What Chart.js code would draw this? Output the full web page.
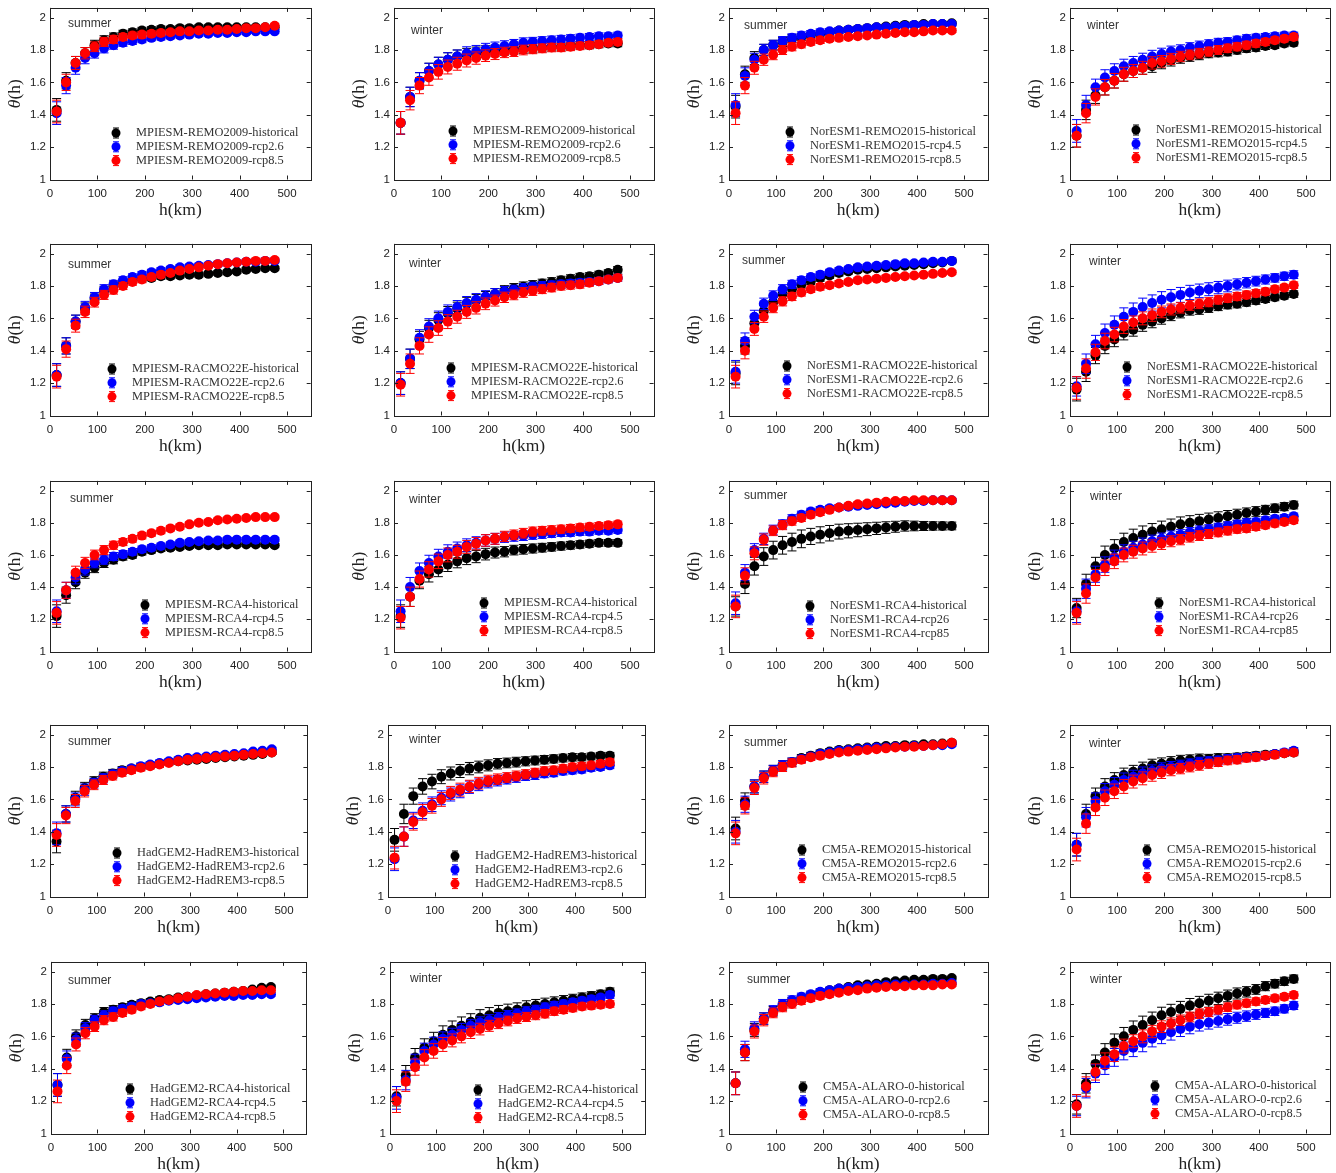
<!DOCTYPE html>
<html>
<head>
<meta charset="utf-8">
<script src="https://cdn.jsdelivr.net/npm/chart.js@4.4.0/dist/chart.umd.min.js"></script>
<style>
  body { margin: 0; background: #fff; width: 1336px; height: 1173px; position: relative; overflow: hidden; }
  canvas { position: absolute; }
</style>
</head>
<body>
<script>
// distance classes h (km)
const h = [14,34,54,74,94,114,134,154,174,194,214,234,254,274,294,314,334,354,374,394,414,434,454,474];
const xTicks = [0,100,200,300,400,500];
const yTicks = [1,1.2,1.4,1.6,1.8,2];
const yTickLabels = ['1','1.2','1.4','1.6','1.8','2'];

// typical half widths of the error bars
const errSummer = [0.07,0.05,0.04,0.035,0.03,0.028,0.025,0.022,0.02,0.02,0.018,0.018,0.016,0.016,0.015,0.015,0.014,0.014,0.014,0.013,0.013,0.013,0.012,0.012];
const errWinter = [0.07,0.06,0.05,0.048,0.045,0.043,0.04,0.04,0.038,0.036,0.034,0.032,0.03,0.03,0.028,0.027,0.026,0.025,0.024,0.023,0.022,0.021,0.02,0.02];
const errWide = [0.06,0.06,0.055,0.055,0.055,0.055,0.055,0.055,0.05,0.05,0.048,0.046,0.044,0.042,0.04,0.038,0.036,0.034,0.032,0.03,0.028,0.026,0.025,0.024];

// MPIESM-REMO2009
const p1_hist = [1.43,1.61,1.72,1.78,1.83,1.86,1.88,1.90,1.91,1.92,1.925,1.93,1.93,1.935,1.935,1.94,1.94,1.94,1.94,1.94,1.94,1.94,1.94,1.94];
const p1_low  = [1.41,1.58,1.69,1.75,1.78,1.81,1.83,1.845,1.855,1.865,1.875,1.88,1.885,1.89,1.895,1.90,1.90,1.905,1.905,1.91,1.91,1.915,1.915,1.915];
const p1_high = [1.42,1.60,1.72,1.78,1.82,1.85,1.865,1.88,1.89,1.895,1.90,1.905,1.91,1.915,1.915,1.92,1.92,1.925,1.925,1.93,1.935,1.935,1.94,1.95];
const p2_hist = [1.35,1.51,1.61,1.67,1.71,1.74,1.76,1.77,1.78,1.79,1.795,1.80,1.805,1.81,1.81,1.815,1.82,1.82,1.825,1.83,1.83,1.835,1.84,1.84];
const p2_low  = [1.35,1.51,1.61,1.67,1.71,1.74,1.76,1.78,1.79,1.805,1.815,1.825,1.835,1.845,1.85,1.855,1.86,1.865,1.87,1.875,1.88,1.885,1.885,1.89];
const p2_high = [1.35,1.49,1.58,1.63,1.665,1.695,1.715,1.735,1.75,1.765,1.775,1.785,1.79,1.80,1.805,1.81,1.815,1.815,1.82,1.825,1.83,1.835,1.845,1.85];
// NorESM1-REMO2015
const p3_hist = [1.45,1.65,1.75,1.80,1.83,1.85,1.87,1.88,1.89,1.90,1.91,1.92,1.925,1.93,1.935,1.94,1.945,1.95,1.955,1.955,1.96,1.96,1.96,1.965];
const p3_low  = [1.46,1.64,1.74,1.80,1.83,1.855,1.875,1.89,1.90,1.91,1.915,1.92,1.925,1.93,1.935,1.94,1.94,1.945,1.95,1.955,1.955,1.96,1.96,1.96];
const p3_high = [1.41,1.58,1.69,1.74,1.77,1.80,1.82,1.835,1.85,1.86,1.87,1.875,1.88,1.885,1.89,1.895,1.90,1.905,1.91,1.91,1.915,1.92,1.92,1.92];
const p4_hist = [1.27,1.43,1.52,1.57,1.61,1.65,1.67,1.69,1.70,1.72,1.735,1.75,1.76,1.77,1.78,1.785,1.79,1.80,1.81,1.815,1.825,1.83,1.84,1.845];
const p4_low  = [1.30,1.46,1.57,1.63,1.67,1.70,1.72,1.74,1.76,1.775,1.79,1.80,1.815,1.825,1.835,1.845,1.85,1.86,1.87,1.875,1.88,1.885,1.89,1.89];
const p4_high = [1.27,1.41,1.51,1.57,1.61,1.65,1.67,1.69,1.72,1.73,1.745,1.76,1.77,1.78,1.79,1.80,1.81,1.82,1.83,1.84,1.85,1.86,1.87,1.88];
// MPIESM-RACMO22E
const p5_hist = [1.25,1.43,1.58,1.66,1.72,1.77,1.80,1.82,1.84,1.845,1.85,1.86,1.86,1.865,1.87,1.87,1.875,1.88,1.885,1.89,1.90,1.905,1.91,1.91];
const p5_low  = [1.25,1.43,1.58,1.67,1.73,1.78,1.81,1.835,1.855,1.87,1.885,1.895,1.905,1.915,1.92,1.925,1.93,1.935,1.94,1.945,1.95,1.95,1.955,1.955];
const p5_high = [1.24,1.41,1.555,1.64,1.70,1.745,1.775,1.80,1.825,1.84,1.855,1.87,1.88,1.895,1.905,1.915,1.925,1.935,1.94,1.945,1.95,1.955,1.955,1.96];
const p6_hist = [1.20,1.35,1.47,1.54,1.59,1.63,1.66,1.69,1.71,1.73,1.75,1.77,1.785,1.795,1.805,1.815,1.825,1.835,1.845,1.855,1.86,1.87,1.88,1.90];
const p6_low  = [1.20,1.35,1.48,1.55,1.60,1.64,1.67,1.695,1.715,1.735,1.75,1.765,1.775,1.785,1.795,1.80,1.805,1.81,1.815,1.82,1.825,1.83,1.84,1.85];
const p6_high = [1.19,1.32,1.43,1.50,1.54,1.58,1.61,1.64,1.665,1.69,1.71,1.73,1.745,1.76,1.77,1.78,1.79,1.80,1.805,1.81,1.82,1.83,1.84,1.85];
// NorESM1-RACMO22E
const p7_hist = [1.26,1.43,1.57,1.645,1.70,1.75,1.78,1.81,1.83,1.85,1.865,1.88,1.89,1.90,1.905,1.91,1.915,1.92,1.925,1.93,1.935,1.94,1.945,1.955];
const p7_low  = [1.27,1.46,1.61,1.69,1.74,1.78,1.81,1.835,1.855,1.87,1.885,1.895,1.905,1.915,1.92,1.925,1.93,1.935,1.94,1.94,1.945,1.95,1.95,1.955];
const p7_high = [1.24,1.40,1.535,1.61,1.665,1.705,1.735,1.76,1.78,1.795,1.805,1.815,1.825,1.835,1.84,1.845,1.85,1.855,1.86,1.865,1.87,1.875,1.88,1.885];
const p8_hist = [1.16,1.27,1.37,1.43,1.47,1.51,1.53,1.56,1.58,1.60,1.62,1.635,1.65,1.655,1.665,1.675,1.685,1.69,1.70,1.71,1.72,1.73,1.74,1.75];
const p8_low  = [1.18,1.32,1.44,1.51,1.56,1.61,1.64,1.67,1.695,1.715,1.73,1.745,1.76,1.77,1.78,1.79,1.80,1.81,1.82,1.83,1.84,1.85,1.86,1.87];
const p8_high = [1.17,1.29,1.39,1.46,1.50,1.55,1.575,1.60,1.62,1.64,1.655,1.665,1.68,1.69,1.70,1.715,1.725,1.735,1.745,1.755,1.765,1.78,1.79,1.805];
// MPIESM-RCA4
const p9_hist = [1.22,1.35,1.43,1.49,1.52,1.55,1.57,1.59,1.60,1.62,1.63,1.64,1.645,1.65,1.655,1.66,1.66,1.66,1.665,1.665,1.665,1.665,1.665,1.66];
const p9_low  = [1.25,1.38,1.46,1.51,1.55,1.57,1.59,1.605,1.62,1.635,1.645,1.655,1.665,1.675,1.68,1.685,1.69,1.69,1.695,1.695,1.695,1.695,1.695,1.695];
const p9_high = [1.24,1.38,1.49,1.55,1.60,1.63,1.66,1.68,1.70,1.72,1.735,1.75,1.765,1.775,1.79,1.80,1.805,1.815,1.82,1.825,1.83,1.835,1.835,1.835];
const p10_hist = [1.22,1.34,1.44,1.48,1.51,1.54,1.56,1.58,1.59,1.605,1.615,1.62,1.63,1.635,1.64,1.645,1.65,1.655,1.66,1.665,1.67,1.675,1.675,1.675];
const p10_low  = [1.25,1.40,1.50,1.55,1.59,1.62,1.64,1.66,1.675,1.69,1.70,1.71,1.715,1.72,1.725,1.73,1.735,1.74,1.74,1.745,1.745,1.75,1.75,1.755];
const p10_high = [1.21,1.34,1.45,1.51,1.56,1.60,1.62,1.65,1.67,1.69,1.70,1.715,1.725,1.735,1.745,1.75,1.755,1.76,1.765,1.77,1.775,1.78,1.785,1.79];
// NorESM1-RCA4
const p11_hist = [1.28,1.42,1.53,1.59,1.63,1.66,1.68,1.70,1.715,1.725,1.735,1.745,1.75,1.755,1.76,1.765,1.77,1.775,1.78,1.78,1.78,1.78,1.78,1.78];
const p11_low  = [1.30,1.49,1.63,1.70,1.755,1.79,1.825,1.85,1.87,1.88,1.89,1.895,1.90,1.905,1.91,1.915,1.92,1.925,1.93,1.935,1.935,1.94,1.94,1.94];
const p11_high = [1.28,1.47,1.61,1.695,1.75,1.785,1.81,1.83,1.85,1.865,1.88,1.895,1.905,1.915,1.92,1.925,1.93,1.935,1.935,1.94,1.94,1.94,1.94,1.94];
const p12_hist = [1.27,1.42,1.53,1.60,1.64,1.68,1.705,1.725,1.745,1.76,1.775,1.79,1.80,1.81,1.82,1.83,1.84,1.85,1.86,1.87,1.88,1.89,1.90,1.91];
const p12_low  = [1.25,1.39,1.48,1.54,1.585,1.62,1.645,1.665,1.685,1.70,1.715,1.725,1.74,1.75,1.76,1.77,1.78,1.79,1.80,1.805,1.815,1.825,1.83,1.84];
const p12_high = [1.24,1.36,1.46,1.52,1.56,1.60,1.62,1.64,1.655,1.67,1.685,1.695,1.71,1.72,1.73,1.74,1.75,1.76,1.765,1.775,1.785,1.795,1.805,1.815];
// HadGEM2-HadREM3
const p13_hist = [1.34,1.51,1.61,1.67,1.71,1.74,1.76,1.78,1.79,1.80,1.81,1.82,1.83,1.835,1.84,1.845,1.85,1.855,1.86,1.865,1.87,1.875,1.88,1.89];
const p13_low  = [1.39,1.51,1.60,1.66,1.70,1.73,1.755,1.775,1.79,1.805,1.815,1.825,1.835,1.845,1.855,1.86,1.865,1.87,1.875,1.88,1.885,1.895,1.90,1.91];
const p13_high = [1.38,1.50,1.59,1.65,1.69,1.72,1.745,1.765,1.78,1.795,1.805,1.815,1.825,1.835,1.845,1.85,1.855,1.86,1.865,1.87,1.875,1.88,1.885,1.89];
const p14_hist = [1.35,1.51,1.62,1.68,1.71,1.74,1.76,1.775,1.79,1.80,1.81,1.82,1.825,1.83,1.835,1.84,1.845,1.85,1.855,1.86,1.86,1.865,1.87,1.87];
const p14_low  = [1.23,1.37,1.47,1.53,1.57,1.61,1.63,1.65,1.675,1.69,1.705,1.715,1.725,1.735,1.745,1.75,1.76,1.765,1.775,1.78,1.785,1.795,1.80,1.81];
const p14_high = [1.24,1.37,1.46,1.52,1.56,1.60,1.64,1.66,1.68,1.70,1.715,1.725,1.735,1.745,1.755,1.765,1.775,1.78,1.79,1.80,1.805,1.81,1.82,1.83];
// CM5A-REMO2015
const p15_hist = [1.42,1.59,1.68,1.74,1.78,1.81,1.83,1.855,1.87,1.885,1.895,1.905,1.91,1.915,1.92,1.925,1.93,1.93,1.935,1.935,1.94,1.94,1.945,1.95];
const p15_low  = [1.40,1.57,1.68,1.74,1.78,1.81,1.83,1.85,1.865,1.88,1.89,1.90,1.905,1.91,1.915,1.92,1.92,1.925,1.925,1.93,1.93,1.935,1.935,1.94];
const p15_high = [1.39,1.56,1.67,1.73,1.77,1.80,1.825,1.845,1.86,1.87,1.88,1.89,1.895,1.90,1.905,1.91,1.915,1.92,1.925,1.925,1.93,1.935,1.94,1.95];
const p16_hist = [1.32,1.51,1.62,1.68,1.72,1.75,1.77,1.79,1.81,1.82,1.83,1.84,1.845,1.85,1.85,1.855,1.855,1.86,1.865,1.87,1.875,1.88,1.885,1.89];
const p16_low  = [1.32,1.49,1.59,1.65,1.69,1.72,1.74,1.76,1.775,1.79,1.80,1.81,1.82,1.83,1.835,1.84,1.85,1.855,1.86,1.865,1.87,1.88,1.89,1.90];
const p16_high = [1.29,1.45,1.55,1.61,1.65,1.68,1.71,1.73,1.75,1.765,1.78,1.79,1.80,1.81,1.82,1.83,1.84,1.845,1.855,1.86,1.87,1.875,1.885,1.89];
// HadGEM2-RCA4
const p17_hist = [1.30,1.47,1.60,1.67,1.71,1.75,1.765,1.78,1.795,1.805,1.815,1.825,1.83,1.84,1.845,1.85,1.86,1.865,1.87,1.875,1.88,1.89,1.90,1.905];
const p17_low  = [1.30,1.46,1.58,1.65,1.70,1.73,1.755,1.77,1.785,1.80,1.805,1.81,1.82,1.825,1.83,1.835,1.84,1.845,1.85,1.85,1.855,1.855,1.86,1.86];
const p17_high = [1.26,1.42,1.55,1.62,1.66,1.70,1.72,1.745,1.765,1.785,1.80,1.815,1.825,1.835,1.845,1.855,1.86,1.865,1.87,1.875,1.88,1.88,1.885,1.885];
const p18_hist = [1.23,1.36,1.47,1.53,1.57,1.61,1.64,1.665,1.69,1.715,1.73,1.745,1.755,1.765,1.78,1.79,1.80,1.81,1.82,1.83,1.84,1.85,1.86,1.875];
const p18_low  = [1.22,1.33,1.44,1.51,1.55,1.585,1.61,1.64,1.665,1.685,1.70,1.715,1.73,1.74,1.755,1.765,1.78,1.79,1.80,1.81,1.82,1.83,1.84,1.855];
const p18_high = [1.20,1.32,1.41,1.47,1.51,1.55,1.575,1.60,1.625,1.645,1.665,1.68,1.695,1.71,1.72,1.73,1.74,1.755,1.765,1.775,1.785,1.79,1.795,1.80];
// CM5A-ALARO-0
const p19_hist = [1.31,1.50,1.64,1.71,1.755,1.79,1.815,1.835,1.855,1.87,1.885,1.895,1.905,1.915,1.92,1.925,1.935,1.94,1.945,1.95,1.95,1.955,1.955,1.96];
const p19_low  = [1.31,1.52,1.65,1.71,1.76,1.80,1.825,1.845,1.86,1.875,1.885,1.895,1.90,1.905,1.91,1.915,1.915,1.92,1.92,1.92,1.92,1.925,1.925,1.93];
const p19_high = [1.31,1.50,1.63,1.70,1.745,1.78,1.80,1.82,1.835,1.85,1.86,1.87,1.88,1.885,1.895,1.90,1.905,1.91,1.91,1.915,1.915,1.915,1.92,1.92];
const p20_hist = [1.18,1.31,1.43,1.50,1.56,1.60,1.64,1.67,1.70,1.73,1.75,1.77,1.79,1.805,1.82,1.835,1.85,1.865,1.875,1.89,1.91,1.925,1.94,1.955];
const p20_low  = [1.17,1.28,1.37,1.42,1.47,1.51,1.53,1.56,1.585,1.605,1.625,1.645,1.66,1.675,1.685,1.695,1.705,1.715,1.725,1.735,1.745,1.755,1.77,1.79];
const p20_high = [1.17,1.29,1.38,1.45,1.49,1.54,1.57,1.60,1.63,1.66,1.68,1.70,1.72,1.74,1.75,1.765,1.78,1.795,1.805,1.815,1.825,1.835,1.845,1.855];

const yMax = 2.06;
const colors = ['#000000', '#0000ff', '#ff0000'];

const panels = [
  { model: 'MPIESM-REMO2009',  season: 'summer', scen: ['historical','rcp2.6','rcp8.5'], vals: [p1_hist,p1_low,p1_high],   err: [errSummer,errSummer,errSummer] },
  { model: 'MPIESM-REMO2009',  season: 'winter', scen: ['historical','rcp2.6','rcp8.5'], vals: [p2_hist,p2_low,p2_high],   err: [errWinter,errWinter,errWinter] },
  { model: 'NorESM1-REMO2015', season: 'summer', scen: ['historical','rcp4.5','rcp8.5'], vals: [p3_hist,p3_low,p3_high],   err: [errSummer,errSummer,errSummer] },
  { model: 'NorESM1-REMO2015', season: 'winter', scen: ['historical','rcp4.5','rcp8.5'], vals: [p4_hist,p4_low,p4_high],   err: [errWinter,errWinter,errWinter] },
  { model: 'MPIESM-RACMO22E',  season: 'summer', scen: ['historical','rcp2.6','rcp8.5'], vals: [p5_hist,p5_low,p5_high],   err: [errSummer,errSummer,errSummer] },
  { model: 'MPIESM-RACMO22E',  season: 'winter', scen: ['historical','rcp2.6','rcp8.5'], vals: [p6_hist,p6_low,p6_high],   err: [errWinter,errWinter,errWinter] },
  { model: 'NorESM1-RACMO22E', season: 'summer', scen: ['historical','rcp2.6','rcp8.5'], vals: [p7_hist,p7_low,p7_high],   err: [errSummer,errSummer,errSummer] },
  { model: 'NorESM1-RACMO22E', season: 'winter', scen: ['historical','rcp2.6','rcp8.5'], vals: [p8_hist,p8_low,p8_high],   err: [errWinter,errWide,errWinter] },
  { model: 'MPIESM-RCA4',      season: 'summer', scen: ['historical','rcp4.5','rcp8.5'], vals: [p9_hist,p9_low,p9_high],   err: [errSummer,errSummer,errSummer] },
  { model: 'MPIESM-RCA4',      season: 'winter', scen: ['historical','rcp4.5','rcp8.5'], vals: [p10_hist,p10_low,p10_high], err: [errWinter,errWinter,errWinter] },
  { model: 'NorESM1-RCA4',     season: 'summer', scen: ['historical','rcp26','rcp85'],   vals: [p11_hist,p11_low,p11_high], err: [errWide,errSummer,errSummer] },
  { model: 'NorESM1-RCA4',     season: 'winter', scen: ['historical','rcp26','rcp85'],   vals: [p12_hist,p12_low,p12_high], err: [errWide,errWinter,errWinter] },
  { model: 'HadGEM2-HadREM3',  season: 'summer', scen: ['historical','rcp2.6','rcp8.5'], vals: [p13_hist,p13_low,p13_high], err: [errSummer,errSummer,errSummer] },
  { model: 'HadGEM2-HadREM3',  season: 'winter', scen: ['historical','rcp2.6','rcp8.5'], vals: [p14_hist,p14_low,p14_high], err: [errWinter,errWinter,errWinter] },
  { model: 'CM5A-REMO2015',    season: 'summer', scen: ['historical','rcp2.6','rcp8.5'], vals: [p15_hist,p15_low,p15_high], err: [errSummer,errSummer,errSummer] },
  { model: 'CM5A-REMO2015',    season: 'winter', scen: ['historical','rcp2.6','rcp8.5'], vals: [p16_hist,p16_low,p16_high], err: [errWinter,errWinter,errWinter] },
  { model: 'HadGEM2-RCA4',     season: 'summer', scen: ['historical','rcp4.5','rcp8.5'], vals: [p17_hist,p17_low,p17_high], err: [errSummer,errSummer,errSummer] },
  { model: 'HadGEM2-RCA4',     season: 'winter', scen: ['historical','rcp4.5','rcp8.5'], vals: [p18_hist,p18_low,p18_high], err: [errWide,errWinter,errWinter] },
  { model: 'CM5A-ALARO-0',     season: 'summer', scen: ['historical','rcp2.6','rcp8.5'], vals: [p19_hist,p19_low,p19_high], err: [errSummer,errSummer,errSummer] },
  { model: 'CM5A-ALARO-0',     season: 'winter', scen: ['historical','rcp2.6','rcp8.5'], vals: [p20_hist,p20_low,p20_high], err: [errWide,errWide,errWinter] }
];

// page pixels: x of 0 km, x of 500 km, y of 1, y of 2, season label x/y, first legend marker x/y
const layout = [
  [50,287,179.5,17.5, 68,24, 116,133],   [394,630,179.5,17.5, 411,31, 453,131],
  [729,964,179.5,17.5, 744,26, 790,132], [1070,1306,179.5,17.5, 1087,26, 1136,130],
  [50,287,415.5,253.5, 68,265, 112,369], [394,630,415.5,253.5, 409,264, 451,368],
  [729,964,415.5,253.5, 742,261, 787,366], [1070,1306,415.5,253.5, 1089,262, 1127,367],
  [50,287,651.5,490, 70,499, 145,605],   [394,630,651.5,490, 409,500, 484,603],
  [729,964,651.5,490, 744,496, 810,606], [1070,1306,651.5,490, 1090,497, 1159,603],
  [50,284,896.5,734, 68,742, 117,853],   [388,622,896.5,734, 409,740, 455,856],
  [729,964,896.5,734, 744,743, 802,850], [1070,1306,896.5,734, 1089,744, 1147,850],
  [51,283,1133.5,971, 68,981, 130,1089], [390,622,1133.5,971, 410,979, 478,1090],
  [729,964,1133.5,971, 747,980, 803,1087], [1070,1306,1133.5,971, 1090,980, 1155,1086]
];

const errorBars = {
  id: 'errorBars',
  beforeDatasetDraw(chart, args) {
    const ds = chart.data.datasets[args.index];
    const xs = chart.scales.x, ys = chart.scales.y, ctx = chart.ctx;
    ctx.save();
    ctx.strokeStyle = ds.backgroundColor;
    ctx.lineWidth = 1;
    ds.data.forEach((p, i) => {
      const e = ds.err[i];
      const px = xs.getPixelForValue(p.x);
      const t = ys.getPixelForValue(p.y + e), b = ys.getPixelForValue(p.y - e);
      ctx.beginPath();
      ctx.moveTo(px, t); ctx.lineTo(px, b);
      ctx.moveTo(px - 4.5, t); ctx.lineTo(px + 4.5, t);
      ctx.moveTo(px - 4.5, b); ctx.lineTo(px + 4.5, b);
      ctx.stroke();
    });
    ctx.restore();
  }
};

const frame = {
  id: 'frame',
  afterDraw(chart, args, opts) {
    const { ctx, chartArea: a } = chart;
    const xs = chart.scales.x, ys = chart.scales.y;
    ctx.save();
    ctx.strokeStyle = '#222';
    ctx.lineWidth = 1;
    ctx.strokeRect(Math.round(a.left) + 0.5, Math.round(a.top) + 0.5, Math.round(a.right - a.left), Math.round(a.bottom - a.top));
    ctx.beginPath();
    xTicks.forEach(v => {
      const px = Math.round(xs.getPixelForValue(v)) + 0.5;
      ctx.moveTo(px, a.bottom); ctx.lineTo(px, a.bottom - 4);
      ctx.moveTo(px, a.top); ctx.lineTo(px, a.top + 4);
    });
    yTicks.forEach(v => {
      const py = Math.round(ys.getPixelForValue(v)) + 0.5;
      ctx.moveTo(a.left, py); ctx.lineTo(a.left + 4, py);
      ctx.moveTo(a.right, py); ctx.lineTo(a.right - 4, py);
    });
    ctx.stroke();

    // axis titles
    ctx.fillStyle = '#222';
    ctx.textBaseline = 'middle';
    ctx.textAlign = 'center';
    ctx.font = '17.5px "Liberation Serif"';
    ctx.fillText('h(km)', (a.left + a.right) / 2, a.bottom + 31);
    ctx.save();
    ctx.translate(a.left - 35, (a.top + a.bottom) / 2);
    ctx.rotate(-Math.PI / 2);
    const f1 = 'italic 17.5px "Liberation Serif"', f2 = '17.5px "Liberation Serif"';
    ctx.font = f1; const w1 = ctx.measureText('θ').width;
    ctx.font = f2; const w2 = ctx.measureText('(h)').width;
    ctx.textAlign = 'left';
    ctx.font = f1; ctx.fillText('θ', -(w1 + w2) / 2, 0);
    ctx.font = f2; ctx.fillText('(h)', -(w1 + w2) / 2 + w1, 0);
    ctx.restore();

    // season label
    ctx.textAlign = 'left';
    ctx.font = '12px "Liberation Sans"';
    ctx.fillStyle = '#333';
    ctx.fillText(opts.season, opts.sx, opts.sy);

    // legend
    opts.labels.forEach((lab, j) => {
      const x = opts.gx, y = opts.gy + j * 13.8;
      ctx.strokeStyle = colors[j];
      ctx.fillStyle = colors[j];
      ctx.beginPath();
      ctx.moveTo(x, y - 5); ctx.lineTo(x, y + 5);
      ctx.moveTo(x - 3, y - 5); ctx.lineTo(x + 3, y - 5);
      ctx.moveTo(x - 3, y + 5); ctx.lineTo(x + 3, y + 5);
      ctx.stroke();
      ctx.beginPath();
      ctx.arc(x, y, 4.5, 0, Math.PI * 2);
      ctx.fill();
      ctx.fillStyle = '#333';
      ctx.font = '12.4px "Liberation Serif"';
      ctx.fillText(lab, x + 20, y);
    });
    ctx.restore();
  }
};

panels.forEach((p, k) => {
  const [x0, x5, yA, yB, sx, sy, gx, gy] = layout[k];
  const kmPx = (x5 - x0) / 500;
  const xRight = x0 + 550 * kmPx;
  const yTop = yB - (yMax - 2) * (yA - yB);
  const L = Math.floor(x0 - 52), T = Math.floor(yTop - 10);
  const W = Math.ceil(xRight + 8) - L, H = Math.ceil(yA + 46) - T;
  const canvas = document.createElement('canvas');
  canvas.width = W; canvas.height = H;
  canvas.style.left = L + 'px'; canvas.style.top = T + 'px';
  canvas.style.width = W + 'px'; canvas.style.height = H + 'px';
  document.body.appendChild(canvas);

  const axisW = x0 - L, axisH = T + H - yA;
  const datasets = p.vals.map((vals, j) => ({
    data: h.map((x, i) => ({ x: x, y: vals[i] })),
    err: p.err[j],
    backgroundColor: colors[j],
    borderColor: colors[j],
    borderWidth: 0,
    pointRadius: 5,
    order: 3 - j
  }));

  new Chart(canvas, {
    type: 'scatter',
    data: { datasets },
    plugins: [errorBars, frame],
    options: {
      responsive: false,
      animation: false,
      devicePixelRatio: 1,
      layout: { padding: { left: 0, top: yTop - T, right: L + W - xRight, bottom: 0 } },
      plugins: {
        legend: { display: false },
        tooltip: { enabled: false },
        frame: {
          season: p.season, sx: sx - L, sy: sy - T, gx: gx - L, gy: gy - T,
          labels: p.scen.map(s => p.model + '-' + s)
        }
      },
      scales: {
        x: {
          type: 'linear', min: 0, max: 550,
          afterBuildTicks: s => { s.ticks = xTicks.map(v => ({ value: v })); },
          afterFit: s => { s.height = axisH; },
          grid: { display: false, drawTicks: false }, border: { display: false },
          ticks: { autoSkip: false, maxRotation: 0, padding: 7, color: '#222', font: { family: 'Liberation Sans', size: 11.5 } }
        },
        y: {
          type: 'linear', min: 1, max: yMax,
          afterBuildTicks: s => { s.ticks = yTicks.map(v => ({ value: v })); },
          afterFit: s => { s.width = axisW; },
          grid: { display: false, drawTicks: false }, border: { display: false },
          ticks: {
            autoSkip: false, padding: 4, color: '#222', font: { family: 'Liberation Sans', size: 11.5 },
            callback: (v) => yTickLabels[yTicks.indexOf(v)]
          }
        }
      }
    }
  });
});
</script>
</body>
</html>
